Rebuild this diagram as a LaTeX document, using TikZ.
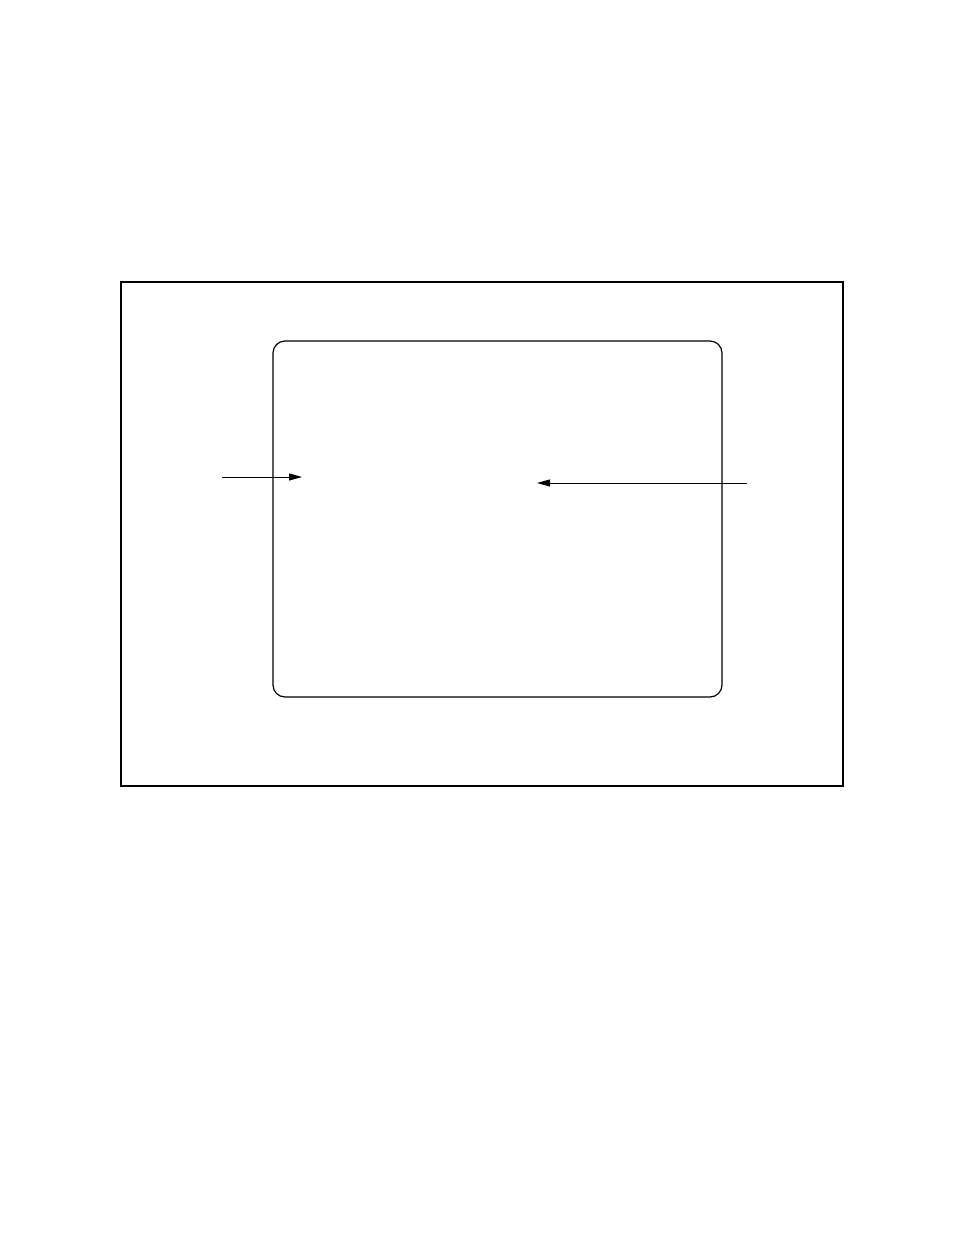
\documentclass[tikz,border=0pt]{standalone}
\usetikzlibrary{arrows.meta}
\tikzset{
  frame/.style={draw, line width=1.4pt, inner sep=0pt, minimum width=722pt, minimum height=504pt},
  panel/.style={draw, line width=1.2pt, rounded corners=12pt, inner sep=0pt, minimum width=449pt, minimum height=356pt},
  pointer/.style={line width=1pt, -{Triangle[length=13pt,width=7pt]}}
}
\begin{document}
\begin{tikzpicture}[x=1pt,y=-1pt]
\useasboundingbox (0,0) rectangle (954,1235);
\node[frame] (outer) at (482,534) {};
\node[panel] (inner) at (497.5,519) {};
\coordinate (lstart) at (222,477);
\coordinate (lend) at (302,477);
\coordinate (rstart) at (747,483);
\coordinate (rend) at (537,483);
\draw[pointer] (lstart) -- (lend);
\draw[pointer] (rstart) -- (rend);
\end{tikzpicture}
\end{document}
